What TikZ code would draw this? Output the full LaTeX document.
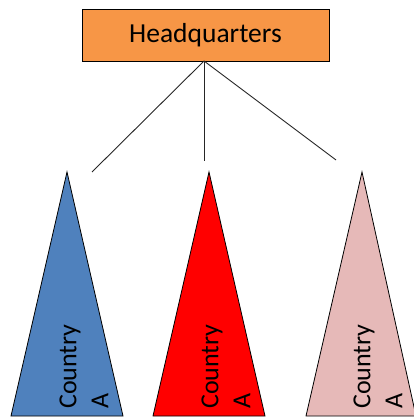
\documentclass[tikz,border=0pt]{standalone}
\usepackage{fontspec}
\setmainfont{Carlito}
\definecolor{hqorange}{HTML}{F79646}
\definecolor{tblue}{HTML}{4F81BD}
\definecolor{tred}{HTML}{FF0000}
\definecolor{tpink}{HTML}{E6B9B8}
\tikzset{
  tri/.style={draw=black, line width=0.8pt, line join=miter},
  lbl/.style={rotate=90, anchor=west, align=left, inner sep=0pt, font=\fontsize{26}{32}\selectfont},
  conn/.style={draw=black!85, line width=0.9pt}
}
\begin{document}
\begin{tikzpicture}[x=1pt,y=-1pt]
\useasboundingbox (0,0) rectangle (414,417);
\node[draw=black, line width=0.9pt, fill=hqorange, minimum width=247pt, minimum height=52pt, inner sep=0pt, font=\fontsize{27.5}{32}\selectfont] (hq) at (205.5,35) {Headquarters};
\coordinate (top) at (204,61);
\coordinate (l) at (92,172);
\coordinate (m) at (204,161);
\coordinate (r) at (336,160);
\draw[conn] (top) -- (l);
\draw[conn] (top) -- (m);
\draw[conn] (top) -- (r);
\filldraw[tri, fill=tblue] (67,172) -- (123,416) -- (11,416) -- cycle;
\filldraw[tri, fill=tred] (209,172) -- (265,416) -- (153,416) -- cycle;
\filldraw[tri, fill=tpink] (362,172) -- (416,416) -- (306,416) -- cycle;
\node[lbl] (ca) at (84,409) {Country\\A};
\node[lbl] (cb) at (226,409) {Country\\A};
\node[lbl] (cc) at (378,409) {Country\\A};
\end{tikzpicture}
\end{document}
